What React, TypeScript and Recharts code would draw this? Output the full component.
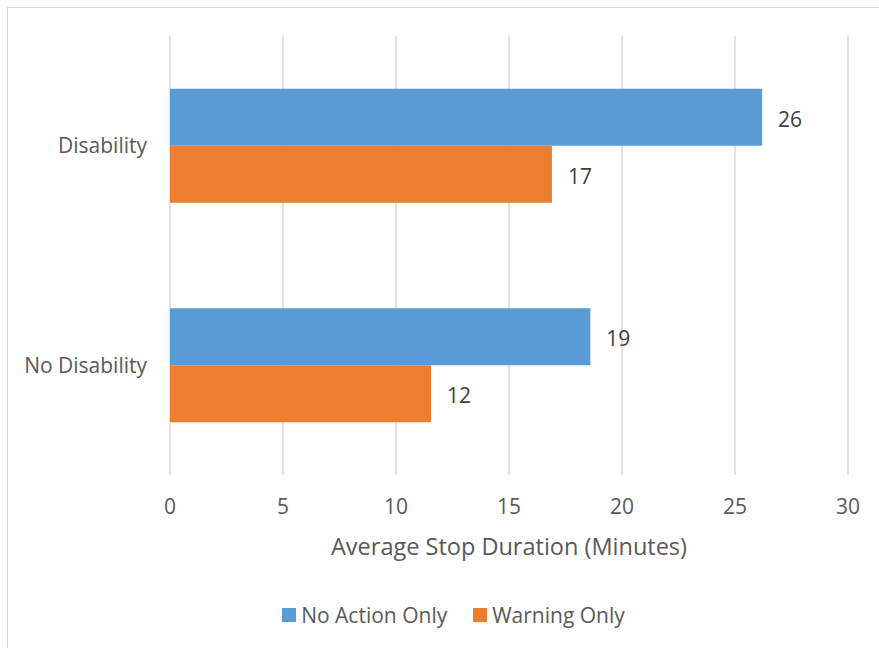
import { BarChart, Bar, XAxis, YAxis, CartesianGrid, Legend, LabelList } from 'recharts'

const groups = ['Disability', 'No Disability']
const noActionOnly = [26.2, 18.6]
const warningOnly = [16.9, 11.55]
const xTicks = [0, 5, 10, 15, 20, 25, 30]

const data = groups.map((name, i) => ({
  name,
  noAction: noActionOnly[i],
  warning: warningOnly[i],
}))

const FONT = '"Open Sans", sans-serif'
const TEXT = '#595959'

function LegendBox({ payload }: any) {
  return (
    <div style={{ display: 'flex', justifyContent: 'center', height: 30, alignItems: 'center', fontFamily: FONT, fontSize: 21, color: TEXT }}>
      {(payload || []).map((p: any) => (
        <div key={p.value} style={{ display: 'flex', alignItems: 'center', marginRight: 26 }}>
          <span style={{ width: 14, height: 14, background: p.color, display: 'inline-block', marginRight: 5 }} />
          <span>{p.value}</span>
        </div>
      ))}
    </div>
  )
}

export default function App() {
  return (
    <div style={{ position: 'absolute', left: 0, top: 0, width: 879, height: 648, overflow: 'hidden', background: '#fff' }}>
      <div style={{ position: 'absolute', left: 7, top: 7, width: 1000, height: 1000, border: '1.5px solid #d9d9d9' }} />
      <div style={{ position: 'absolute', left: 0, top: 0 }}>
        <BarChart
          width={879}
          height={648}
          data={data}
          layout="vertical"
          margin={{ top: 36, right: 31, left: 0, bottom: 63 }}
          barCategoryGap="24%"
          barGap={0}
        >
          <CartesianGrid horizontal={false} stroke="#d9d9d9" strokeWidth={1.5} />
          <XAxis
            type="number"
            domain={[0, 30]}
            ticks={xTicks}
            axisLine={false}
            tickLine={false}
            tickSize={0}
            tickMargin={24}
            height={80}
            tick={{ fill: TEXT, fontSize: 21, fontFamily: FONT }}
            label={{ value: 'Average Stop Duration (Minutes)', position: 'insideBottom', offset: 0, fill: TEXT, fontSize: 23.5, fontFamily: FONT }}
          />
          <YAxis
            type="category"
            dataKey="name"
            width={170}
            axisLine={false}
            tickLine={false}
            tickSize={0}
            tickMargin={23}
            tick={{ fill: TEXT, fontSize: 21, fontFamily: FONT }}
          />
          <Legend
            verticalAlign="bottom"
            content={<LegendBox />}
            wrapperStyle={{ top: 600, bottom: 'auto', left: 27, width: 879 }}
          />
          <Bar dataKey="noAction" name="No Action Only" fill="#5B9BD5" isAnimationActive={false}>
            <LabelList dataKey="noAction" position="right" offset={16} dy={2} formatter={(v: any) => Math.round(Number(v))} style={{ fill: '#404040', fontSize: 21, fontFamily: FONT }} />
          </Bar>
          <Bar dataKey="warning" name="Warning Only" fill="#ED7D31" isAnimationActive={false}>
            <LabelList dataKey="warning" position="right" offset={16} dy={2} formatter={(v: any) => Math.round(Number(v))} style={{ fill: '#404040', fontSize: 21, fontFamily: FONT }} />
          </Bar>
        </BarChart>
      </div>
    </div>
  )
}
